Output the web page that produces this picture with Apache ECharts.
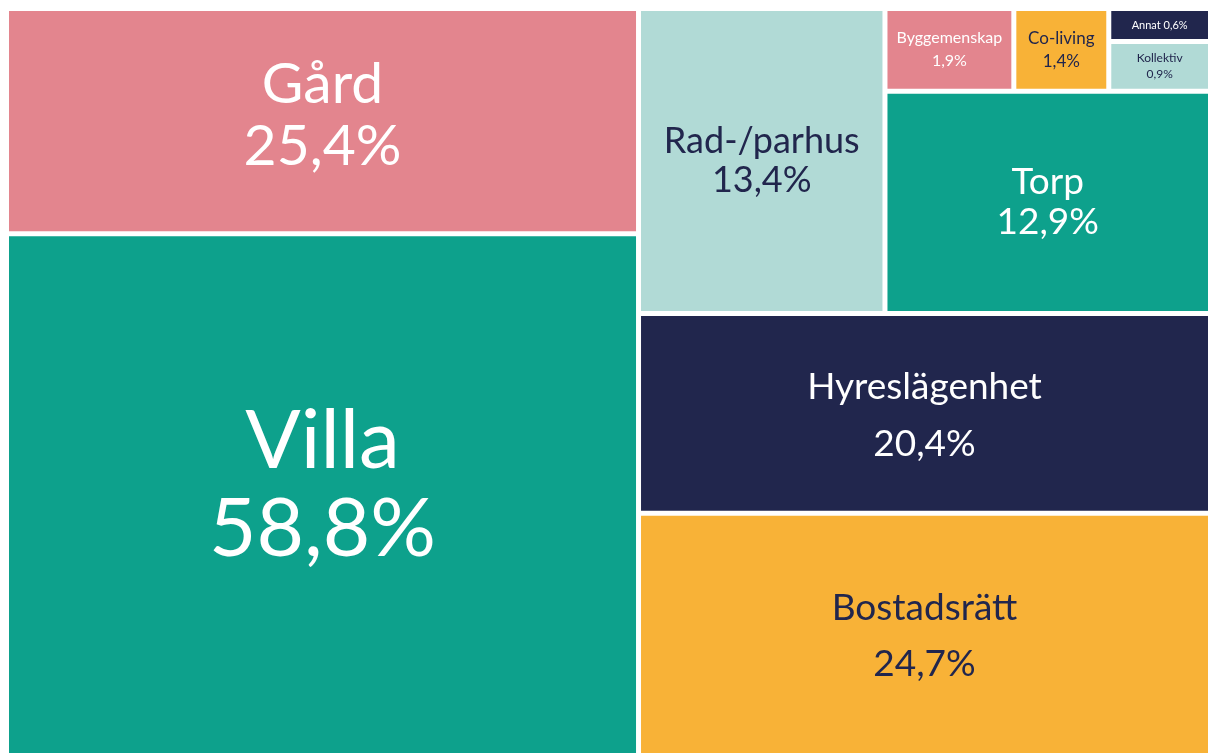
<!DOCTYPE html>
<html>
<head>
<meta charset="utf-8">
<script src="https://cdn.jsdelivr.net/npm/echarts@6/dist/echarts.min.js"></script>
<style>
  html, body { margin: 0; padding: 0; background: #fff; }
  #main { width: 1208px; height: 753px; }
</style>
</head>
<body>
<div id="main"></div>
<script>
// boendeformer, andel i procent
const names = ['Gård', 'Villa', 'Rad-/parhus', 'Byggemenskap', 'Co-living', 'Annat', 'Kollektiv', 'Torp', 'Hyreslägenhet', 'Bostadsrätt'];
const values = [25.4, 58.8, 13.4, 1.9, 1.4, 0.6, 0.9, 12.9, 20.4, 24.7];

const PINK = '#e3858e', TEAL = '#0da18c', LIGHT = '#b1dad6', NAVY = '#21264d', ORANGE = '#f8b237';

// utseende per ruta (dy = lyft texten)
const look = {
  'Gård':          { color: PINK,   text: '#fff', size: 57, lh: 62, dy: -6 },
  'Villa':         { color: TEAL,   text: '#fff', size: 82, lh: 88, dy: -9 },
  'Rad-/parhus':   { color: LIGHT,  text: NAVY,   size: 36, lh: 39, dy: 0 },
  'Byggemenskap':  { color: PINK,   text: '#fff', size: 16, lh: 23, dy: 0 },
  'Co-living':     { color: ORANGE, text: NAVY,   size: 17, lh: 23, dy: 0 },
  'Annat':         { color: NAVY,   text: '#fff', size: 11, lh: 14, dy: 0 },
  'Kollektiv':     { color: LIGHT,  text: NAVY,   size: 12, lh: 16, dy: 0 },
  'Torp':          { color: TEAL,   text: '#fff', size: 37, lh: 40, dy: 0 },
  'Hyreslägenhet': { color: NAVY,   text: '#fff', size: 37, lh: 57, dy: 2 },
  'Bostadsrätt':   { color: ORANGE, text: NAVY,   size: 37, lh: 56, dy: 2 }
};

function pct(v) {
  return v.toFixed(1).replace('.', ',') + '%';
}

function leaf(name) {
  const s = look[name];
  return {
    name: name,
    value: values[names.indexOf(name)],
    itemStyle: { color: s.color },
    label: { color: s.text, fontSize: s.size, lineHeight: s.lh, offset: [0, s.dy] }
  };
}

function group(name, children) {
  return { name: name, children: children };
}

// grupperingen styr bara hur rutorna läggs ut
const tree = [
  leaf('Gård'),
  leaf('Villa'),
  group('höger', [
    group('övre', [
      group('topp', [
        leaf('Rad-/parhus'),
        group('små', [leaf('Byggemenskap'), leaf('Co-living'), leaf('Annat'), leaf('Kollektiv')]),
        leaf('Torp')
      ]),
      leaf('Hyreslägenhet')
    ]),
    leaf('Bostadsrätt')
  ])
];

let myChart = echarts.init(document.getElementById('main'));
myChart.setOption({
  animation: false,
  series: [{
    type: 'treemap',
    left: 9,
    top: 11,
    right: 0,
    bottom: 0,
    sort: false,
    squareRatio: 1.6,
    roam: false,
    nodeClick: false,
    breadcrumb: { show: false },
    itemStyle: {
      gapWidth: 5,
      borderWidth: 0,
      borderColor: '#fff'
    },
    label: {
      show: true,
      position: 'inside',
      fontFamily: 'Lato',
      overflow: 'none',
      formatter: function (p) {
        if (p.name === 'Annat') return p.name + ' ' + pct(p.value);
        return p.name + '\n' + pct(p.value);
      }
    },
    data: tree
  }]
});
window.addEventListener('resize', function () {
  myChart.resize();
});
</script>
</body>
</html>
